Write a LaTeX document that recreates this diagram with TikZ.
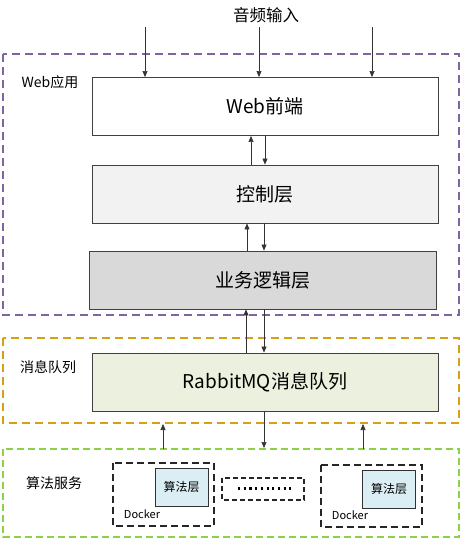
\documentclass[tikz,border=0pt]{standalone}
\usepackage{fontspec}
\setmainfont{Noto Sans CJK SC}
\usetikzlibrary{arrows.meta}
\definecolor{webpurple}{RGB}{128,100,162}
\definecolor{mqorange}{RGB}{214,160,20}
\definecolor{algogreen}{RGB}{140,210,70}
\definecolor{ctrlfill}{RGB}{242,242,242}
\definecolor{bizfill}{RGB}{217,217,217}
\definecolor{mqfill}{RGB}{235,241,222}
\definecolor{algofill}{RGB}{219,238,244}
\tikzset{
  layer/.style={draw=black!75, line width=0.9pt, minimum height=58pt, inner sep=0pt, font=\fontsize{19}{21}\selectfont},
  arr/.style={draw=black!80, line width=0.6pt, -{Triangle[length=6pt,width=5pt]}},
  grp/.style={line width=1.2pt, dash pattern=on 8pt off 5pt},
  lbl/.style={font=\fontsize{14}{16}\selectfont, anchor=center, inner sep=0pt},
  dockerbox/.style={draw=black!85, line width=1.4pt, dash pattern=on 7pt off 4pt},
  algobox/.style={draw=black!80, line width=0.9pt, fill=algofill, inner sep=0pt, font=\fontsize{12}{14}\selectfont},
}
\begin{document}
\begin{tikzpicture}[x=1pt,y=-1pt]
\useasboundingbox (0,0) rectangle (462,540);
% groups
\draw[grp, draw=webpurple] (3,54) rectangle (459,315);
\draw[grp, draw=mqorange] (3,338) rectangle (459,423);
\draw[line width=1.2pt, draw=algogreen, dash pattern=on 7pt off 4pt] (3,449) rectangle (459,537);
\node[lbl] (lweb) at (50,82) {Web应用};
\node[lbl] (lmq) at (48,367) {消息队列};
\node[lbl] (lalgo) at (54,483) {算法服务};
% title
\node[font=\fontsize{16.5}{18}\selectfont, inner sep=0pt] (title) at (266,15) {音频输入};
% layers
\node[layer, fill=white, minimum width=346pt] (web) at (265,106.5) {Web前端};
\node[layer, fill=ctrlfill, minimum width=346pt] (ctrl) at (265,194) {控制层};
\node[layer, fill=bizfill, minimum width=347pt] (biz) at (262.5,280) {业务逻辑层};
\node[layer, fill=mqfill, minimum width=346pt] (mq) at (265,382) {RabbitMQ消息队列};
% input arrows
\coordinate (in1) at (145,27);
\coordinate (in2) at (259,27);
\coordinate (in3) at (372,27);
\draw[arr] (in1) -- (in1 |- web.north);
\draw[arr] (in2) -- (in2 |- web.north);
\draw[arr] (in3) -- (in3 |- web.north);
% web <-> ctrl
\coordinate (a1) at (251,0);
\coordinate (a2) at (265,0);
\draw[arr] (a1 |- ctrl.north) -- (a1 |- web.south);
\draw[arr] (a2 |- web.south) -- (a2 |- ctrl.north);
% ctrl <-> biz
\coordinate (b1) at (247,0);
\coordinate (b2) at (264,0);
\draw[arr] (b1 |- biz.north) -- (b1 |- ctrl.south);
\draw[arr] (b2 |- ctrl.south) -- (b2 |- biz.north);
% biz <-> mq
\coordinate (c1) at (246,0);
\coordinate (c2) at (264,0);
\draw[arr] (c1 |- mq.north) -- (c1 |- biz.south);
\draw[arr] (c2 |- biz.south) -- (c2 |- mq.north);
% mq <-> algo
\coordinate (d1) at (163,449);
\coordinate (d1t) at (163,424);
\coordinate (d3) at (363,449);
\coordinate (d3t) at (363,424);
\coordinate (d2) at (264,448);
\draw[arr] (d1) -- (d1t);
\draw[arr] (d3) -- (d3t);
\draw[arr] (mq.south -| d2) -- (d2);
% docker 1
\draw[dockerbox] (113,463) rectangle (214,526);
\node[algobox, minimum width=53pt, minimum height=38pt] (alg1) at (181.5,487) {算法层};
\node[font=\fontsize{11}{12}\selectfont, inner sep=0pt] (dk1) at (142,514) {Docker};
% middle
\draw[draw=black!85, line width=1.1pt, dash pattern=on 5pt off 3pt] (222,478) rectangle (304,500);
\draw[line width=2.2pt, dash pattern=on 2.2pt off 3.5pt] (238,488.5) -- (291,488.5);
% docker 2
\draw[dockerbox] (321,465) rectangle (422,527);
\node[algobox, minimum width=53pt, minimum height=38pt] (alg2) at (389,489) {算法层};
\node[font=\fontsize{11}{12}\selectfont, inner sep=0pt] (dk2) at (350,515) {Docker};
\end{tikzpicture}
\end{document}
